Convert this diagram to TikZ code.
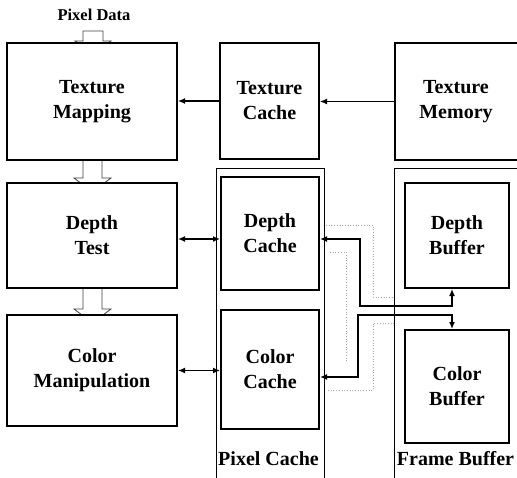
\documentclass[tikz,border=0pt]{standalone}
\usepackage{fontspec}
\setmainfont{Liberation Serif}
\usetikzlibrary{arrows.meta}
\begin{document}
\begin{tikzpicture}[x=1pt,y=-1pt,
  blk/.style={draw=black,line width=2pt,fill=white,inner sep=0pt,align=center,
     font=\fontsize{20}{25}\selectfont\bfseries},
  frame/.style={draw=black,line width=0.9pt},
  hollow/.style={draw=black!75,line width=0.8pt,fill=white},
  biarrow/.style={draw=black,line width=1.4pt,{Latex[length=7pt,width=6pt]}-{Latex[length=7pt,width=6pt]}},
  onearrow/.style={draw=black,line width=1.2pt,-{Latex[length=7pt,width=6pt]}},
  ghost/.style={draw=black!35,line width=0.7pt,dotted},
  lbl/.style={font=\fontsize{20}{25}\selectfont\bfseries,inner sep=0pt,anchor=base}
]
\useasboundingbox (0,0) rectangle (517,477);

% outer group frames
\draw[frame] (216,480) -- (216,168) -- (324,168) -- (324,480);
\draw[frame] (394,480) -- (394,168) -- (520,168);

% hollow data-flow arrows
\draw[hollow] (83,31) -- (103,31) -- (103,41) -- (111,41) -- (93,54) -- (75,41) -- (83,41) -- cycle;
\draw[hollow] (83,155) -- (102,155) -- (102,178) -- (111,178) -- (92.5,192) -- (74,178) -- (83,178) -- cycle;
\draw[hollow] (83,283) -- (102,283) -- (102,309) -- (111,309) -- (92.5,323) -- (74,309) -- (83,309) -- cycle;

% ghost traces
\draw[ghost] (326,225) -- (373,225) -- (373,297) -- (394,297);
\draw[ghost] (330,252) -- (346,252) -- (346,362);
\draw[ghost] (394,323) -- (373,323) -- (373,390) -- (326,390);

% blocks
\node[blk,minimum width=170pt,minimum height=117pt] (tm) at (92,101.5) {Texture\\Mapping};
\node[blk,minimum width=99pt,minimum height=116pt] (tc) at (269.5,101) {Texture\\Cache};
\node[blk,minimum width=130pt,minimum height=117pt] (tmem) at (460,101.5) {};
\node[font=\fontsize{20}{25}\selectfont\bfseries,align=center,inner sep=0pt] (tmemtext) at (456,101.5) {Texture\\Memory};
\node[blk,minimum width=170pt,minimum height=105pt] (dt) at (92,235.5) {Depth\\Test};
\node[blk,minimum width=170pt,minimum height=111pt] (cm) at (92,370.5) {Color\\Manipulation};
\node[blk,minimum width=98pt,minimum height=113pt] (dc) at (270,233.5) {Depth\\Cache};
\node[blk,minimum width=98pt,minimum height=119pt] (cc) at (270,369.5) {Color\\Cache};
\node[blk,minimum width=104pt,minimum height=105pt] (db) at (457,235.5) {Depth\\Buffer};
\node[blk,minimum width=104pt,minimum height=113pt] (cb) at (457,386.5) {Color\\Buffer};

% labels
\node[font=\fontsize{16.5}{20}\selectfont\bfseries,inner sep=0pt,anchor=base] (pd) at (94,20) {Pixel Data};
\node[lbl] (pcl) at (268.5,465) {Pixel Cache};
\node[lbl] (fbl) at (455.5,465) {Frame Buffer};

% connectors
\draw[onearrow] (tmem.west) -- (tmem.west -| tc.east);
\draw[onearrow] (tc.west) -- (tc.west -| tm.east);
\draw[biarrow] ([yshift=-3.5pt]dt.east) -- ([yshift=-3.5pt]dt.east -| dc.west);
\draw[biarrow] (cm.east) -- (cm.east -| cc.west);
\draw[biarrow] ([yshift=-5.5pt]dc.east) -| (360,306) -| ([xshift=-5pt]db.south);
\draw[biarrow] ([yshift=-7.5pt]cc.east) -| (358,315) -| ([xshift=-5pt]cb.north);
\end{tikzpicture}
\end{document}
